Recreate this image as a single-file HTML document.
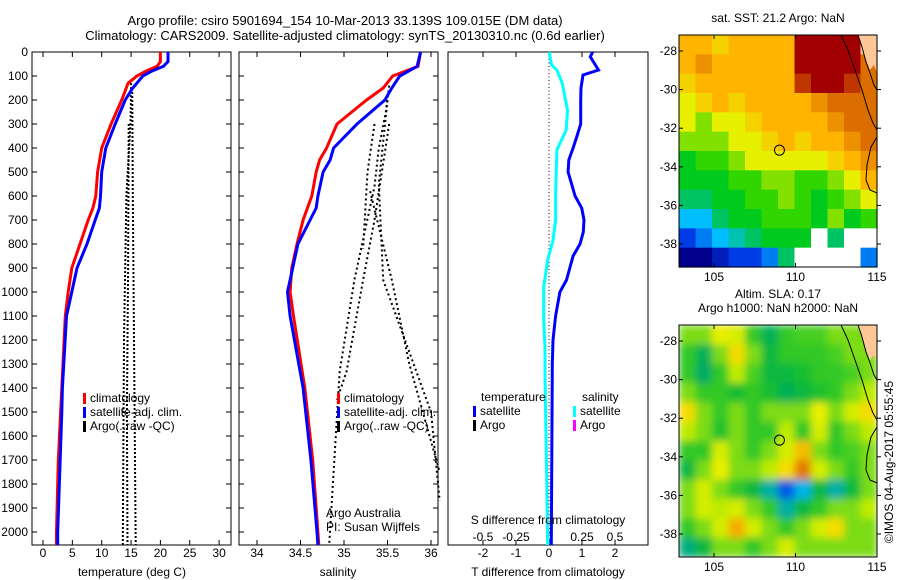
<!DOCTYPE html>
<html><head><meta charset="utf-8">
<style>
html,body{margin:0;padding:0;background:#fff;}
svg{display:block;font-family:"Liberation Sans",sans-serif;}
text{font-size:12px;fill:#000;}
</style></head>
<body>
<svg id="fig" width="900" height="580" viewBox="0 0 900 580" xmlns="http://www.w3.org/2000/svg">
<defs>
<filter id="blur" x="0" y="0" width="1" height="1"><feGaussianBlur stdDeviation="4" edgeMode="duplicate"/></filter>
<clipPath id="clip2"><rect x="679" y="325" width="198" height="232"/></clipPath>
</defs>
<text x="345" y="25" text-anchor="middle" style="font-size:13px">Argo profile: csiro 5901694_154 10-Mar-2013 33.139S 109.015E (DM data)</text>
<text x="345" y="40" text-anchor="middle" style="font-size:13px">Climatology: CARS2009. Satellite-adjusted climatology: synTS_20130310.nc (0.6d earlier)</text>
<g id="g"></g>
</svg>
<script>
// ---- data ----
const depthTicks=[0,100,200,300,400,500,600,700,800,900,1000,1100,1200,1300,1400,1500,1600,1700,1800,1900,2000];
const tempTicks=[0,5,10,15,20,25,30];
const salTicks=[34,34.5,35,35.5,36];
const tdiffTicks=[-2,-1,0,1,2];
const sdiffTicks=[-0.5,-0.25,0,0.25,0.5];
const climTdepth=[0,40,60,80,100,130,200,300,400,500,600,650,700,800,900,1000,1100,1400,1700,2000,2054];
const climT=[20,20,19.4,17.5,16,14.5,13.4,11.6,10,9.3,9,8.5,7.7,6.3,4.9,4.3,3.8,3.2,2.6,2.3,2.3];
const satTdepth=[0,40,60,80,100,150,200,300,400,500,600,650,700,800,900,1000,1100,1400,1500,2000,2054];
const satT=[21.3,21.3,20.5,18.5,17,15.3,14,12.3,10.7,10,9.8,9.6,8.9,7.5,5.8,4.9,4,3.3,3.2,2.5,2.5];
const argoTlines=[[[15,130],[14.9,300],[14.2,600],[13.8,1200],[13.6,2054]],[[15.2,150],[15.3,600],[15.5,1200],[15.8,2054]],[[14.6,300],[14.5,900],[14.3,1500],[14.4,2054]]];
const climSdepth=[0,60,100,150,200,300,400,450,500,600,700,800,900,1000,1100,1400,1700,2000,2054];
const climS=[35.88,35.85,35.56,35.45,35.26,34.92,34.8,34.72,34.68,34.63,34.53,34.46,34.40,34.38,34.42,34.55,34.64,34.70,34.71];
const satSdepth=[0,60,100,150,200,300,400,450,500,600,650,700,800,900,1000,1100,1400,1700,2000,2054];
const satS=[35.88,35.84,35.64,35.55,35.47,35.15,34.88,34.84,34.76,34.70,34.68,34.61,34.47,34.41,34.35,34.38,34.53,34.62,34.69,34.70];
const argoSlines=[[[35.52,140],[35.48,250],[35.4,400],[35.35,560],[35.12,950],[34.95,1330],[34.83,2054]],[[35.35,300],[35.27,500],[35.22,820]],[[35.52,300],[35.35,700],[35.22,950],[35.03,1330],[34.92,1450]],[[35.5,200],[35.4,550],[35.45,950],[36.0,1500],[36.1,1870]],[[35.3,580],[35.55,950],[35.75,1300],[36.1,1750]]];
const tdDepth=[0,20,75,96,150,200,300,350,400,450,500,600,650,700,750,800,850,900,950,1000,1100,1200,1300,2054];
const tdSat=[1.32,1.25,1.5,1.03,0.97,0.96,0.96,0.85,0.73,0.6,0.58,0.79,0.99,1.06,1.04,0.94,0.73,0.63,0.53,0.33,0.2,0.12,0.1,0.07];
const sdDepth=[0,54,75,130,242,325,408,590,700,785,866,980,1115,1230,1340,1700,2054];
const sdSat=[0,0.02,0.06,0.10,0.14,0.13,0.06,0.05,0.05,0.03,-0.01,-0.04,-0.04,-0.03,-0.03,-0.02,-0.01];
const mapLonTicks=[105,110,115];
const mapLatTicks=[-28,-30,-32,-34,-36,-38];
const N=NaN, L=-99;
const sstGrid=[
[22,22,21.5,22,22,22,22,24,24,24,24,L],
[22,22.5,22,22,22,22,22,24,24,24,24,23],
[21.5,22,22,22,22,22,22,23.5,24,24,23.5,23],
[21,21.5,22,21.5,22,22,22,22,22.5,23,23,23],
[21,20.5,21,21,21.5,22,22,22,22,22.5,23,23],
[20.5,20.5,20.5,21,21,21.5,22,21.5,22,22,22.5,23],
[19.5,20,20,20.5,21,21,21,21,21,21.5,22,22.5],
[19.5,19.5,19.5,20,20,20.5,20.5,20,20,20.5,21,22],
[19,19,19.5,19.5,20,20,20.5,20,19.5,20,20.5,21],
[18,18,19,19.5,19.5,20,20,20,19.5,20.5,19.5,20],
[17,17.5,18,18.5,19,19.5,19.5,19.5,N,19,N,N],
[16,16,16.5,17,17,17.5,19,N,N,N,N,17.5]];
const slaGrid=[
[0.05,0.05,0.12,0.1,0,-0.08,0,0.02,0.02,0.05,0.05,L],
[0,-0.08,0.05,0.15,0.05,-0.05,0,0,0,0.02,0.05,0.05],
[0,-0.1,0,0.08,0.02,-0.05,-0.05,-0.03,0,0,0.02,0.05],
[0.05,0,0,-0.03,0,-0.03,-0.08,-0.05,-0.02,0,0.05,0.08],
[0.15,0.05,0,0.05,0,0.05,0.05,0.05,0.12,0.05,0.1,0.15],
[0.08,0.05,-0.02,0.05,0,0,0.08,0,0.1,0,0.05,0.08],
[0,0,0.1,0.05,0,0.05,0.1,0.18,0.05,0,0.02,0.05],
[-0.05,0.05,0.12,0.05,0.05,0.08,0.15,0.25,0.1,0.05,0,0.05],
[0.05,0.1,0.05,0,-0.05,-0.15,-0.3,-0.2,-0.05,-0.15,-0.05,0.05],
[0.05,0.1,0.08,0.1,0.05,0,-0.15,-0.05,0,0.05,0.05,0.08],
[0,0.05,0.1,0.2,0.1,0.05,0,0.05,0.1,0.15,0.05,0.05],
[-0.12,-0.05,0.05,0.05,0,0.05,0.1,0.05,0.05,0.05,0.05,0.05]];
const argoLon=109.015, argoLat=-33.139;

// ---- helpers ----
const NS='http://www.w3.org/2000/svg';
const G=document.getElementById('g');
function mk(tag,attrs,parent){const e=document.createElementNS(NS,tag);for(const k in attrs)e.setAttribute(k,attrs[k]);(parent||G).appendChild(e);return e;}
function txt(x,y,s,anchor,parent){const t=mk('text',{x:x,y:y,'text-anchor':anchor||'start'},parent);t.textContent=s;return t;}
const Y=d=>52+d*0.24;
const PB=545;
const xT=t=>43+t*5.87;
const xS=s=>257+(s-34)*87;
const xTd=t=>549+t*33;
const xSd=s=>549+s*132;
function poly(xs,ds,fx,color,w,dash,name){
  const pts=xs.map((v,i)=>fx(v).toFixed(1)+','+Y(ds[i]).toFixed(1)).join(' ');
  const p=mk('polyline',{points:pts,fill:'none',stroke:color,'stroke-width':w});
  if(dash)p.setAttribute('stroke-dasharray',dash);
  
  
  return p;
}
function box(x0,x1,name){
  const r=mk('rect',{x:x0,y:52,width:x1-x0,height:PB-52,fill:'none',stroke:'#000','stroke-width':1});
  
  
}

// ---- panel 1: temperature ----
box(32,231,'temperature-panel-frame');
depthTicks.forEach(d=>{
  mk('line',{x1:32,x2:37,y1:Y(d),y2:Y(d),stroke:'#000'});
  mk('line',{x1:226,x2:231,y1:Y(d),y2:Y(d),stroke:'#000'});
  const t=txt(28,Y(d)+4,String(d),'end');
  
  
});
tempTicks.forEach(v=>{
  mk('line',{x1:xT(v),x2:xT(v),y1:52,y2:57,stroke:'#000'});
  mk('line',{x1:xT(v),x2:xT(v),y1:PB,y2:PB-5,stroke:'#000'});
  const t=txt(xT(v),557,String(v),'middle');
  
  
});
argoTlines.forEach(l=>poly(l.map(p=>p[0]),l.map(p=>p[1]),xT,'#000',2,'2 2','argo-temperature-profile'));
poly(climT,climTdepth,xT,'#f00',3,null,'climatology-temperature-line');
poly(satT,satTdepth,xT,'#00f',3,null,'satellite-temperature-line');
{const t=txt(132,576,'temperature (deg C)','middle');}
function legend(x,y,items,name){
  items.forEach((it,i)=>{
    mk('rect',{x:x,y:y+i*14-9,width:3,height:11,fill:it[0]});
    const t=txt(x+7,y+i*14,it[1]);
    
    
  });
}
legend(83,402,[['#f00','climatology'],['#00f','satellite-adj. clim.'],['#000','Argo(..raw -QC)']],'temperature-legend-entry');

// ---- panel 2: salinity ----
box(239,438,'salinity-panel-frame');
depthTicks.forEach(d=>{
  mk('line',{x1:239,x2:244,y1:Y(d),y2:Y(d),stroke:'#000'});
  mk('line',{x1:433,x2:438,y1:Y(d),y2:Y(d),stroke:'#000'});
});
salTicks.forEach(v=>{
  mk('line',{x1:xS(v),x2:xS(v),y1:52,y2:57,stroke:'#000'});
  mk('line',{x1:xS(v),x2:xS(v),y1:PB,y2:PB-5,stroke:'#000'});
  const t=txt(xS(v),557,String(v),'middle');
  
  
});
argoSlines.forEach(l=>poly(l.map(p=>p[0]),l.map(p=>p[1]),xS,'#000',2,'2 3','argo-salinity-profile'));
poly(climS,climSdepth,xS,'#f00',3,null,'climatology-salinity-line');
poly(satS,satSdepth,xS,'#00f',3,null,'satellite-salinity-line');
{const t=txt(338,576,'salinity','middle');}
legend(337,402,[['#f00','climatology'],['#00f','satellite-adj. clim.'],['#000','Argo(..raw -QC)']],'salinity-legend-entry');
{const t=txt(326,517,'Argo Australia');}
{const t=txt(326,531,'PI: Susan Wijffels');}

// ---- panel 3: differences ----
box(448,648,'difference-panel-frame');
mk('line',{x1:549,x2:549,y1:52,y2:PB,stroke:'#000','stroke-dasharray':'1 2.5'});
tdiffTicks.forEach(v=>{
  mk('line',{x1:xTd(v),x2:xTd(v),y1:52,y2:57,stroke:'#000'});
  mk('line',{x1:xTd(v),x2:xTd(v),y1:PB,y2:PB-5,stroke:'#000'});
  const t=txt(xTd(v),557,String(v),'middle');
  
  
});
sdiffTicks.forEach(v=>{
  const t=txt(xSd(v),541,String(v),'middle');
  
  
});
poly(sdSat,sdDepth,xSd,'#0ff',3,null,'satellite-salinity-difference-line');
poly(tdSat,tdDepth,xTd,'#00f',3,null,'satellite-temperature-difference-line');
{const t=txt(548,524,'S difference from climatology','middle');}
{const t=txt(548,576,'T difference from climatology','middle');}
{const t=txt(481,401,'temperature');}
{const t=txt(582,401,'salinity');}
legend(473,415,[['#00f','satellite'],['#000','Argo']],'t-diff-legend-entry');
legend(573,415,[['#0ff','satellite'],['#f0f','Argo']],'s-diff-legend-entry');

// ---- maps ----
function ramp(stops){
  return v=>{
    if(v<=stops[0][0])return `rgb(${stops[0][1]})`;
    for(let i=1;i<stops.length;i++){
      if(v<=stops[i][0]){
        const a=stops[i-1],b=stops[i],f=(v-a[0])/(b[0]-a[0]);
        const c=a[1].map((x,k)=>Math.round(x+(b[1][k]-x)*f));
        return `rgb(${c})`;
      }
    }
    return `rgb(${stops[stops.length-1][1]})`;
  };
}
const sstColor=ramp([[16,[0,0,140]],[17,[0,60,230]],[18,[0,190,255]],[19,[0,195,100]],[19.7,[0,205,0]],[20.5,[130,225,0]],[21,[230,240,0]],[22,[255,180,0]],[23,[220,110,0]],[24,[160,0,0]]]);
const slaColor=ramp([[-0.3,[0,90,230]],[-0.2,[0,180,230]],[-0.1,[0,170,100]],[-0.03,[20,190,50]],[0.03,[80,210,30]],[0.08,[190,235,0]],[0.13,[245,240,0]],[0.2,[245,170,0]],[0.27,[220,100,0]]]);
const mx=lon=>714+(lon-105)*16.3;
function drawMap(y0,grid,colorFn,name,titleLines,smooth){
  const my=lat=>y0+16+(-28-lat)*19.3;
  const cw=(877-679)/12, ch=232/12;
  const n=titleLines.length;
  titleLines.forEach((s,i)=>{const t=txt(778,y0-14*(n-i)+1,s,'middle');});
  const wrap=mk('g',smooth?{'clip-path':'url(#clip2)'}:{});
  const cg=mk('g',smooth?{filter:'url(#blur)'}:{},wrap);
  grid.forEach((row,r)=>row.forEach((v,c)=>{
    let col;
    if(v===L) col=smooth?colorFn(0.05):'#fdc797'; else if(isNaN(v)) col='#fff'; else col=colorFn(v);
    const cell=mk('rect',{x:(679+c*cw).toFixed(2),y:(y0+r*ch).toFixed(2),width:(cw+0.6).toFixed(2),height:(ch+0.6).toFixed(2),fill:col},cg);
    
    
  }));
  mk('polygon',{points:`858,${y0} 862,${y0+10} 866,${y0+25} 870,${y0+35} 874,${y0+30} 877,${y0+38} 877,${y0}`,fill:'#fdc797'});
  const coast=mk('polyline',{points:`841,${y0} 848,${y0+15} 855,${y0+35} 862,${y0+55} 868,${y0+75} 873,${y0+88} 877,${y0+95}`,fill:'none',stroke:'#000','stroke-width':1});
  
  
  mk('polyline',{points:`858,${y0} 862,${y0+12} 866,${y0+27} 870,${y0+38} 874,${y0+50} 877,${y0+55}`,fill:'none',stroke:'#000','stroke-width':1});
  mk('polyline',{points:`877,${y0+102} 871,${y0+112} 867,${y0+130} 866,${y0+145} 870,${y0+155} 877,${y0+158}`,fill:'none',stroke:'#000','stroke-width':1});
  const fr=mk('rect',{x:679,y:y0,width:198,height:232,fill:'none',stroke:'#000'});
  
  
  mapLonTicks.forEach(v=>{
    mk('line',{x1:mx(v),x2:mx(v),y1:y0,y2:y0+4,stroke:'#000'});
    mk('line',{x1:mx(v),x2:mx(v),y1:y0+232,y2:y0+228,stroke:'#000'});
    const t=txt(mx(v),y0+246,String(v),'middle');
    
    
  });
  mapLatTicks.forEach(v=>{
    mk('line',{x1:679,x2:683,y1:my(v),y2:my(v),stroke:'#000'});
    mk('line',{x1:877,x2:881,y1:my(v),y2:my(v),stroke:'#000'});
    const t=txt(677,my(v)+4,String(v),'end');
    
    
  });
  const c=mk('circle',{cx:mx(argoLon),cy:my(argoLat),r:5,fill:'none',stroke:'#000','stroke-width':1});
  
  
}
drawMap(35,sstGrid,sstColor,'sst-map',['sat. SST: 21.2 Argo: NaN'],false);
drawMap(325,slaGrid,slaColor,'sla-map',['Altim. SLA: 0.17','Argo h1000: NaN h2000: NaN'],true);
{const t=mk('text',{x:0,y:0,'text-anchor':'middle',transform:'translate(893,462) rotate(-90)'});t.textContent='©IMOS 04-Aug-2017 05:55:45';}
</script>
</body></html>
